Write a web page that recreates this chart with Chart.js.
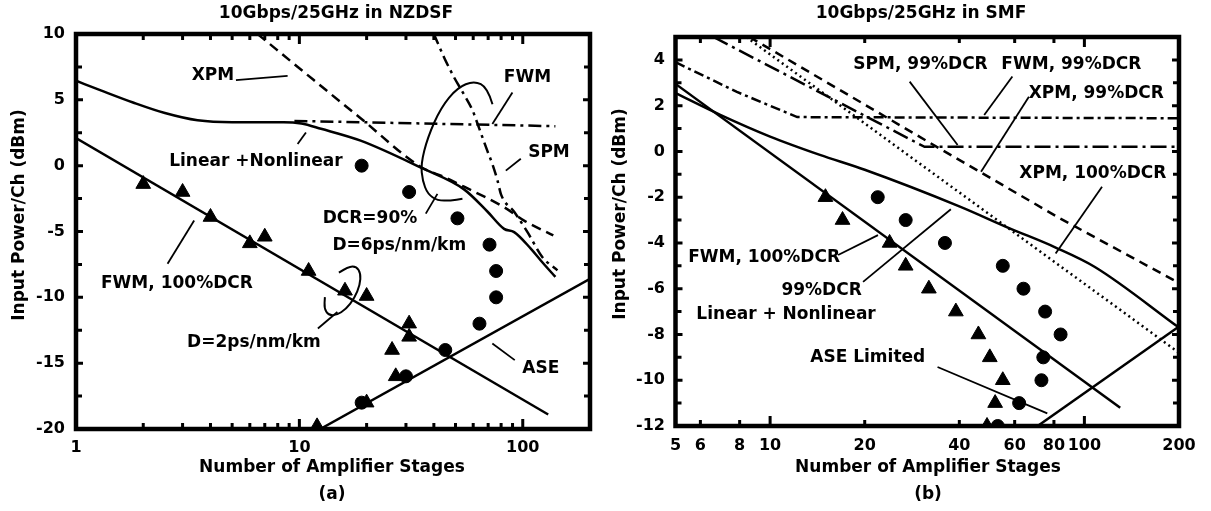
<!DOCTYPE html>
<html>
<head>
<meta charset="utf-8">
<script src="https://cdn.jsdelivr.net/npm/chart.js@4.4.1/dist/chart.umd.min.js"></script>
<style>
  html, body { margin: 0; padding: 0; background: #fff; }
  #wrap { position: relative; width: 1211px; height: 511px; }
  canvas { position: absolute; top: 0; }
  #chartA { left: 0; }
  #chartB { left: 600px; }
</style>
</head>
<body>
<div id="wrap">
  <canvas id="chartA" width="600" height="511"></canvas>
  <canvas id="chartB" width="611" height="511"></canvas>
</div>
<script>
// ---- (a) NZDSF ----
const xTicksA = [1, 2, 3, 4, 5, 6, 7, 8, 9, 10, 20, 30, 40, 50, 60, 70, 80, 90, 100, 200];
const xLabelsA = [1, 10, 100];
const yTicksA = [-20, -15, -10, -5, 0, 5, 10];

// D=2ps/nm/km measurements (triangles)
const aTriX = [2, 3, 4, 6, 7, 11, 16, 20, 31, 31, 26, 27, 20, 12];
const aTriY = [-1.4, -2, -3.9, -5.9, -5.4, -8, -9.5, -9.9, -12, -13, -14, -16, -18, -19.8];
// D=6ps/nm/km measurements (circles)
const aDotX = [19, 31, 51, 71, 76, 76, 64, 45, 30, 19];
const aDotY = [0, -2, -4, -6, -8, -10, -12, -14, -16, -18];
// linear + nonlinear limit
const aTotalX = [1, 1.3, 1.8, 2.5, 3.5, 5, 8.5, 10.2, 12.5, 18.8, 35, 54.6, 69.6, 82.5, 91.5, 108.6, 120.4, 140];
const aTotalY = [6.45, 5.7, 4.8, 4.0, 3.45, 3.3, 3.3, 3.2, 2.8, 1.9, -0.15, -1.8, -3.5, -4.8, -5.05, -6.3, -7.2, -8.45];
// XPM limit
const aXpmX = [6.5, 11.6, 18.8, 35, 45, 54.6, 82.5, 101.4, 137];
const aXpmY = [10, 6.5, 3.6, -0.1, -0.9, -1.6, -3.16, -4.17, -5.3];
// FWM limit
const aFwmX = [9.5, 140];
const aFwmY = [3.4, 3.0];
// SPM limit
const aSpmX = [40, 44.5, 49.3, 54.6, 59.6, 62.7, 66, 69.5, 73.2, 77, 80, 91.5, 105, 122.5, 143];
const aSpmY = [10, 8.2, 6.7, 5.4, 4.2, 3.2, 2.15, 1.1, 0.1, -1.1, -2.2, -3.5, -5.05, -6.95, -7.95];
// FWM, 100%DCR and ASE lines
const aLinX = [1, 130];
const aLinY = [2.1, -18.9];
const aAseX = [12.4, 200];
const aAseY = [-20, -8.6];

// ---- (b) SMF ----
const xTicksB = [5, 6, 8, 10, 20, 40, 60, 80, 100, 200];
const yTicksB = [-12, -10, -8, -6, -4, -2, 0, 2, 4];

const bTriX = [15, 17, 24, 27, 32, 39, 46, 50, 55, 52, 49];
const bTriY = [-2, -3, -4, -5, -6, -7, -8, -9, -10, -11, -12];
const bDotX = [22, 27, 36, 55, 64, 75, 84, 74, 73, 62, 53];
const bDotY = [-2, -3, -4, -5, -6, -7, -8, -9, -10, -11, -12];
const bLinX = [5, 130];
const bLinY = [2.95, -11.2];
const bTotalX = [5, 6.94, 10, 14.4, 20, 40, 57.6, 81, 108, 200];
const bTotalY = [2.55, 1.6, 0.65, -0.15, -0.8, -2.4, -3.35, -4.2, -5.05, -7.7];
const bFwmX = [5, 7.84, 12.2, 200];
const bFwmY = [3.9, 2.6, 1.5, 1.45];
const bSpmX = [6.6, 31, 200];
const bSpmY = [5, 0.2, 0.2];
const bXpmX = [8.6, 32, 83, 200];
const bXpmY = [5, 0.4, -2.9, -5.75];
const bXpm100X = [8.4, 200];
const bXpm100Y = [5, -8.8];
const bAseX = [71, 200];
const bAseY = [-12, -7.65];

const FONT = "'DejaVu Sans', 'Liberation Sans', Arial, sans-serif";

function pts(xs, ys) {
  return xs.map((x, i) => ({ x: x, y: ys[i] }));
}

function curve(xs, ys, dash, smooth) {
  return {
    data: pts(xs, ys),
    showLine: true,
    borderColor: '#000',
    borderWidth: 2.5,
    borderDash: dash || [],
    pointRadius: 0,
    pointHoverRadius: 0,
    fill: false,
    tension: smooth ? 0.4 : 0,
    cubicInterpolationMode: smooth ? 'monotone' : 'default'
  };
}

function marks(xs, ys, style, r) {
  return {
    data: pts(xs, ys),
    showLine: false,
    pointStyle: style,
    pointRadius: r,
    pointHoverRadius: r,
    backgroundColor: '#000',
    borderColor: '#000',
    borderWidth: 1
  };
}

// frame, inward ticks, labels and leader lines for one panel
function decor(spec) {
  return {
    id: 'decor',
    afterDraw(chart) {
      const ctx = chart.ctx;
      const a = chart.chartArea;
      const sx = chart.scales.x, sy = chart.scales.y;
      const px = v => sx.getPixelForValue(v);
      const py = v => sy.getPixelForValue(v);
      ctx.save();
      ctx.strokeStyle = '#000';
      ctx.fillStyle = '#000';
      ctx.lineCap = 'butt';

      // leader lines
      ctx.lineWidth = 1.8;
      spec.leaders.forEach(l => {
        ctx.beginPath();
        ctx.moveTo(px(l[0]), py(l[1]));
        ctx.lineTo(px(l[2]), py(l[3]));
        ctx.stroke();
      });

      // hand-drawn loops around groups of curves
      ctx.lineWidth = 2;
      spec.loops.forEach(loop => {
        const p = loop.map(q => [px(q[0]), py(q[1])]);
        ctx.beginPath();
        ctx.moveTo(p[0][0], p[0][1]);
        for (let i = 1; i < p.length - 1; i++) {
          const mx = (p[i][0] + p[i + 1][0]) / 2, my = (p[i][1] + p[i + 1][1]) / 2;
          ctx.quadraticCurveTo(p[i][0], p[i][1], mx, my);
        }
        const last = p[p.length - 1];
        ctx.lineTo(last[0], last[1]);
        ctx.stroke();
      });

      // annotation text
      ctx.font = 'bold 17px ' + FONT;
      ctx.textAlign = 'center';
      ctx.textBaseline = 'middle';
      spec.notes.forEach(n => ctx.fillText(n[0], px(n[1]), py(n[2])));

      // tick stubs on all four sides, pointing inward
      ctx.lineWidth = 3;
      spec.xMarks.forEach(m => {
        const x = px(m[0]), len = m[1] ? 10 : 6;
        ctx.beginPath();
        ctx.moveTo(x, a.bottom); ctx.lineTo(x, a.bottom - len);
        ctx.moveTo(x, a.top); ctx.lineTo(x, a.top + len);
        ctx.stroke();
      });
      spec.yMarks.forEach(m => {
        const y = py(m[0]), len = m[1] ? 7 : 6;
        ctx.beginPath();
        ctx.moveTo(a.left, y); ctx.lineTo(a.left + len, y);
        ctx.moveTo(a.right, y); ctx.lineTo(a.right - len, y);
        ctx.stroke();
      });

      // frame
      ctx.lineWidth = 4.5;
      ctx.lineJoin = 'miter';
      ctx.strokeRect(a.left, a.top, a.right - a.left, a.bottom - a.top);

      // titles
      ctx.font = 'bold 17px ' + FONT;
      ctx.fillText(spec.title, spec.titleX, 14);
      ctx.fillText('Number of Amplifier Stages', spec.axisX, 468);
      ctx.fillText(spec.tag, spec.axisX, 495);
      ctx.translate(spec.yTitleX, spec.yTitleY);
      ctx.rotate(-Math.PI / 2);
      ctx.fillText('Input Power/Ch (dBm)', 0, 0);
      ctx.restore();
    }
  };
}

function makeChart(id, datasets, xs, ys, spec) {
  return new Chart(document.getElementById(id), {
    type: 'scatter',
    data: { datasets: datasets },
    options: {
      responsive: false,
      animation: false,
      events: [],
      devicePixelRatio: 1,
      layout: { padding: spec.padding },
      plugins: { legend: { display: false }, tooltip: { enabled: false } },
      scales: {
        x: {
          type: 'logarithmic',
          min: xs.min, max: xs.max,
          afterBuildTicks: s => { s.ticks = xs.ticks.map(v => ({ value: v })); },
          afterFit: s => { s.height = spec.xHeight; },
          grid: { display: false, drawTicks: false },
          border: { display: false },
          ticks: {
            autoSkip: false, maxRotation: 0, padding: spec.xPad,
            color: '#000', font: { family: FONT, size: 16, weight: 'bold' },
            callback: v => xs.labels.includes(v) ? String(v) : ''
          }
        },
        y: {
          type: 'linear',
          min: ys.min, max: ys.max,
          afterBuildTicks: s => { s.ticks = ys.ticks.map(v => ({ value: v })); },
          afterFit: s => { s.width = spec.yWidth; },
          grid: { display: false, drawTicks: false },
          border: { display: false },
          ticks: {
            padding: spec.yPad,
            color: '#000', font: { family: FONT, size: 16, weight: 'bold' },
            callback: v => String(v)
          }
        }
      }
    },
    plugins: [decor(spec)]
  });
}

// ---- panel (a) ----
makeChart('chartA', [
  curve(aTotalX, aTotalY, [], true),
  curve(aXpmX, aXpmY, [10, 6], true),
  curve(aFwmX, aFwmY, [13, 5, 3, 5], false),
  curve(aSpmX, aSpmY, [11, 5, 3, 5], true),
  curve(aLinX, aLinY, [], false),
  curve(aAseX, aAseY, [], false),
  marks(aTriX, aTriY, 'triangle', 8.5),
  marks(aDotX, aDotY, 'circle', 6.5)
], { min: 1, max: 200, ticks: xTicksA, labels: xLabelsA },
   { min: -20, max: 10, ticks: yTicksA },
{
  padding: { left: 0, top: 34, right: 10, bottom: 0 },
  xHeight: 82, yWidth: 76, xPad: 9, yPad: 11,
  title: '10Gbps/25GHz in NZDSF', titleX: 336, axisX: 332, tag: '(a)',
  yTitleX: 20, yTitleY: 215,
  xMarks: [[2, 0], [3, 0], [4, 0], [5, 0], [6, 0], [7, 0], [8, 0], [9, 0], [10, 1],
           [20, 0], [30, 0], [40, 0], [50, 0], [60, 0], [70, 0], [80, 0], [90, 0], [100, 1]],
  yMarks: [[-17.5, 0], [-15, 1], [-12.5, 0], [-10, 1], [-7.5, 0], [-5, 1], [-2.5, 0], [0, 1], [2.5, 0], [5, 1], [7.5, 0]],
  notes: [
    ['XPM', 4.1, 6.82],
    ['FWM', 105, 6.69],
    ['SPM', 131, 1.0],
    ['Linear +Nonlinear', 6.39, 0.3],
    ['DCR=90%', 20.7, -4.02],
    ['D=6ps/nm/km', 28, -6.06],
    ['FWM, 100%DCR', 2.83, -8.94],
    ['D=2ps/nm/km', 6.26, -13.4],
    ['ASE', 120.4, -15.4]
  ],
  leaders: [
    [5.2, 6.49, 8.86, 6.82],
    [9.82, 1.64, 10.7, 2.52],
    [89.9, 5.55, 73.1, 3.16],
    [98, 0.53, 84, -0.38],
    [36.8, -3.64, 41.5, -2.14],
    [2.57, -7.45, 3.38, -4.17],
    [12.1, -12.37, 14.8, -11.11],
    [92.1, -14.77, 73.1, -13.5]
  ],
  loops: [
    [[73.2, 4.67], [69.5, 5.93], [60.6, 6.44], [51.0, 5.93], [43.0, 4.42], [37.5, 2.14], [35.0, 0.13],
     [35.6, -1.14], [37.5, -2.14], [41.5, -2.65], [47.6, -2.65], [53.7, -2.52]],
    [[15.03, -8.13], [16.61, -7.65], [18.02, -7.67], [18.81, -8.18], [18.67, -9.05], [17.67, -10.05],
     [16.16, -10.9], [14.64, -11.37], [13.49, -11.36], [12.92, -10.84], [13.01, -9.98]]
  ]
});

// ---- panel (b) ----
makeChart('chartB', [
  curve(bTotalX, bTotalY, [], true),
  curve(bLinX, bLinY, [], false),
  curve(bFwmX, bFwmY, [10, 4, 3, 4], false),
  curve(bSpmX, bSpmY, [16, 5, 3, 5], false),
  curve(bXpmX, bXpmY, [9, 6], false),
  curve(bXpm100X, bXpm100Y, [2, 3.5], false),
  curve(bAseX, bAseY, [], false),
  marks(bTriX, bTriY, 'triangle', 8.5),
  marks(bDotX, bDotY, 'circle', 6.5)
], { min: 5, max: 200, ticks: xTicksB, labels: xTicksB },
   { min: -12, max: 5, ticks: yTicksB },
{
  padding: { left: 0, top: 37, right: 32, bottom: 0 },
  xHeight: 85, yWidth: 75.5, xPad: 10, yPad: 10.5,
  title: '10Gbps/25GHz in SMF', titleX: 321, axisX: 328, tag: '(b)',
  yTitleX: 21, yTitleY: 214,
  xMarks: [[6, 0], [8, 0], [10, 1], [20, 0], [40, 0], [60, 0], [80, 0], [100, 1]],
  yMarks: [[-11, 0], [-10, 1], [-9, 0], [-8, 1], [-7, 0], [-6, 1], [-5, 0], [-4, 1], [-3, 0], [-2, 1],
           [-1, 0], [0, 1], [1, 0], [2, 1], [3, 0], [4, 1]],
  notes: [
    ['SPM, 99%DCR', 30.1, 3.78],
    ['FWM, 99%DCR', 90.9, 3.78],
    ['XPM, 99%DCR', 109.1, 2.54],
    ['XPM, 100%DCR', 106.4, -0.96],
    ['FWM, 100%DCR', 9.57, -4.66],
    ['99%DCR', 14.58, -6.06],
    ['Linear + Nonlinear', 11.24, -7.15],
    ['ASE Limited', 20.45, -8.99]
  ],
  leaders: [
    [27.8, 3.05, 39.5, 0.28],
    [59, 3.27, 48, 1.59],
    [66.6, 2.39, 46.9, -0.89],
    [113.8, -1.54, 81, -4.46],
    [16.46, -4.53, 22.04, -3.66],
    [19.76, -5.7, 37.6, -2.53],
    [34.1, -9.42, 76.2, -11.45]
  ],
  loops: []
});
</script>
</body>
</html>
